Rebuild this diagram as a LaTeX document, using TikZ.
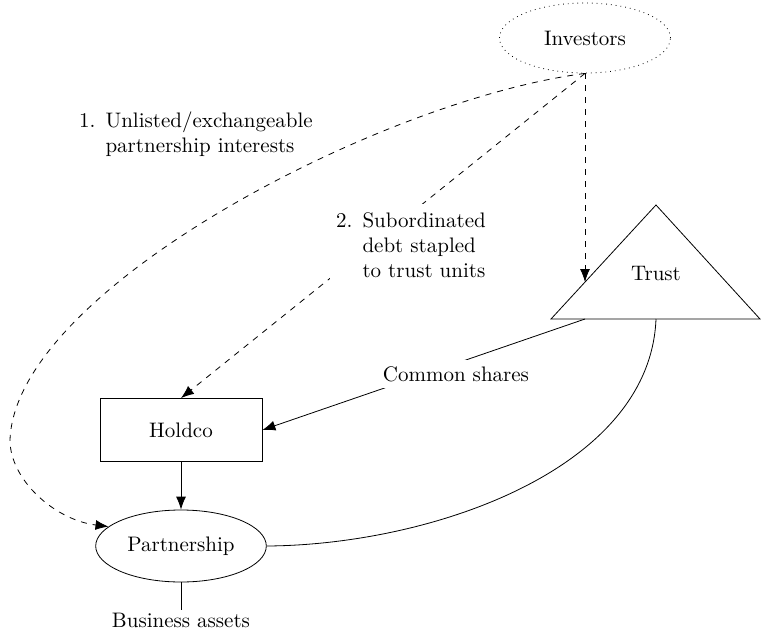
\documentclass[tikz,border=0pt]{standalone}
\usepackage{tikz}
\usetikzlibrary{arrows, arrows.meta}
\usetikzlibrary{shapes.geometric}

\tikzset{
  txt/.style={font=\fontsize{10.5}{12.5}\selectfont},
  box/.style={txt, draw, rectangle, minimum width=81pt, minimum height=31.5pt},
  oval/.style={txt, draw, ellipse, minimum width=84pt, minimum height=36pt},
  note/.style={txt, fill=white, inner sep=3pt},
  flow/.style={->, dashed}
}

\begin{document}
\begin{tikzpicture}[x=0.5pt, y=-0.5pt, >={Latex[length=6.5pt,width=5pt]}]
  \useasboundingbox (0,0) rectangle (762,633);

  \node [oval, dotted, minimum width=85.5pt, minimum height=35pt] (inv) at (585,38) {Investors};
  \node [box] (holdco) at (181,430) {Holdco};
  \node [oval] (part) at (181,546) {Partnership};
  \node [txt, inner sep=1pt] (assets) at (181,620) {Business assets};

  % trust triangle
  \coordinate (trustL) at (551,319);
  \coordinate (trustT) at (656,205);
  \coordinate (trustR) at (760,319);
  \draw (trustL) -- (trustT) -- (trustR) -- cycle;
  \node [txt] (trust) at (656,274) {Trust};
  \coordinate (trustin) at (585,282);
  \coordinate (shareout) at (585,319);
  \coordinate (assetout) at (656,319);

  \node [txt] (opt1) at (196,135)
    {\begin{tabular}{@{}r@{\hspace{5pt}}l@{}}1.&Unlisted/exchangeable\\&partnership interests\end{tabular}};

  \draw [flow] (inv.south) -- (trustin);
  \draw [flow] (inv.south) -- node[note, pos=0.5, xshift=14pt, yshift=-6pt]
    {\begin{tabular}{@{}r@{\hspace{5pt}}l@{}}2.&Subordinated\\&debt stapled\\&to trust units\end{tabular}} (holdco.north);
  \draw [flow] (inv.south) .. controls (380,100) and (15,290) .. (10,440)
    .. controls (10,480) and (55,520) .. (part.165);

  \draw [->] (shareout) -- node[note, pos=0.4, yshift=-5.3pt] {Common shares} (holdco.east);
  \draw [->] (holdco) -- (part);
  \draw (assetout) .. controls (650,470) and (430,545) .. (part.east);
  \draw (part) -- (assets);

\end{tikzpicture}
\end{document}
